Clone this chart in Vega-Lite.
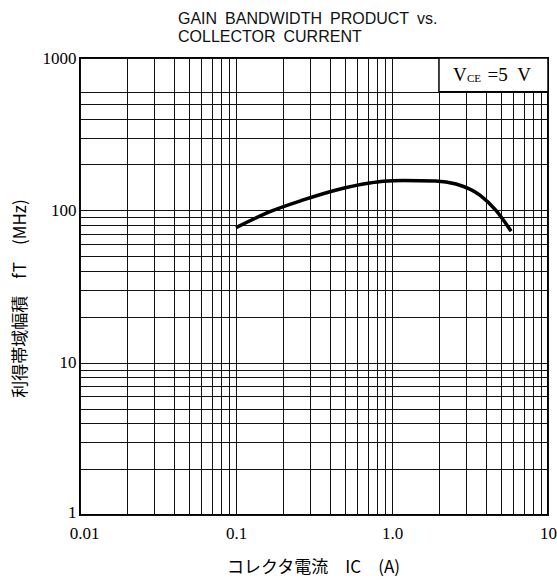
{
  "$schema": "https://vega.github.io/schema/vega-lite/v6.json",
  "width": 468,
  "height": 457,
  "autosize": "none",
  "padding": {"left": 80, "top": 58, "right": 9, "bottom": 65},
  "background": "white",
  "config": {
    "view": {"stroke": "black", "strokeWidth": 2},
    "axis": {"gridColor": "#111", "gridOpacity": 1, "gridWidth": 1, "tickSize": 0, "domain": false, "labelColor": "black", "titleColor": "black", "labelOverlap": false, "labelFlush": false}
  },
  "title": {
    "text": ["GAIN\u2002BANDWIDTH\u2002PRODUCT\u2002vs.", "COLLECTOR\u2002CURRENT"],
    "anchor": "start",
    "frame": "group",
    "dx": 98,
    "offset": 4,
    "font": "Liberation Sans",
    "fontSize": 16,
    "fontWeight": "normal",
    "lineHeight": 18,
    "color": "#111"
  },
  "datasets": {
    "curve": [
      {"ic": 0.1, "ft": 77},
      {"ic": 0.165, "ft": 98},
      {"ic": 0.27, "ft": 117},
      {"ic": 0.44, "ft": 136},
      {"ic": 0.72, "ft": 151},
      {"ic": 0.88, "ft": 155},
      {"ic": 1.18, "ft": 157},
      {"ic": 1.9, "ft": 156},
      {"ic": 2.57, "ft": 149},
      {"ic": 3.66, "ft": 126},
      {"ic": 4.64, "ft": 100},
      {"ic": 5.8, "ft": 73}
    ],
    "box": [{"ic": 2, "ic2": 10, "ft": 600, "ft2": 1000}],
    "annot": [
      {"ic": 2.46, "ft": 710, "part": "V", "label": "V"},
      {"ic": 3.02, "ft": 710, "part": "CE", "label": "CE"},
      {"ic": 4.1, "ft": 710, "part": "rest", "label": "=5\u2002V"}
    ]
  },
  "layer": [
    {
      "data": {"name": "box"},
      "mark": {"type": "rect", "fill": "white", "stroke": "black", "strokeWidth": 1.5},
      "encoding": {
        "x": {
          "field": "ic", "type": "quantitative",
          "scale": {"type": "log", "domain": [0.01, 10], "nice": false},
          "axis": {
            "values": [0.01, 0.02, 0.03, 0.04, 0.05, 0.06, 0.07, 0.08, 0.09, 0.1, 0.2, 0.3, 0.4, 0.5, 0.6, 0.7, 0.8, 0.9, 1, 2, 3, 4, 5, 6, 7, 8, 9, 10],
            "labelExpr": "datum.value == 0.01 ? '0.01' : datum.value == 0.1 ? '0.1' : datum.value == 1 ? '1.0' : datum.value == 10 ? '10' : ''",
            "labelFont": "Liberation Serif",
            "labelFontSize": 17,
            "labelPadding": 10,
            "labelOffset": {"condition": {"test": "datum.value == 0.01", "value": 4}, "value": 0},
            "title": "コレクタ電流\u3000IC\u3000(A)",
            "titleFont": "Noto Sans CJK JP",
            "titleFontSize": 17,
            "titleFontWeight": "normal",
            "titleX": 233,
            "titleY": 57,
            "titleAlign": "center",
            "titleBaseline": "alphabetic"
          }
        },
        "x2": {"field": "ic2"},
        "y": {
          "field": "ft", "type": "quantitative",
          "scale": {"type": "log", "domain": [1, 1000], "nice": false},
          "axis": {
            "values": [1, 2, 3, 4, 5, 6, 7, 8, 9, 10, 20, 30, 40, 50, 60, 70, 80, 90, 100, 200, 300, 400, 500, 600, 1000],
            "labelExpr": "datum.value == 1 ? '1' : datum.value == 10 ? '10' : datum.value == 100 ? '100' : datum.value == 1000 ? '1000' : ''",
            "labelFont": "Liberation Serif",
            "labelFontSize": 17,
            "labelPadding": 4,
            "labelOffset": {"condition": {"test": "datum.value == 1", "value": -3}, "value": 0},
            "title": "利得帯域幅積\u3000fT\u3000(MHz)",
            "titleFont": "Noto Sans CJK JP",
            "titleFontSize": 17,
            "titleFontWeight": "normal",
            "titleX": -60,
            "titleY": 240,
            "titleAlign": "center",
            "titleBaseline": "middle"
          }
        },
        "y2": {"field": "ft2"}
      }
    },
    {
      "data": {"name": "curve"},
      "mark": {"type": "line", "interpolate": "monotone", "color": "black", "strokeWidth": 3.5},
      "encoding": {
        "x": {"field": "ic", "type": "quantitative"},
        "y": {"field": "ft", "type": "quantitative"}
      }
    },
    {
      "data": {"name": "annot"},
      "transform": [{"filter": "datum.part == 'V'"}],
      "mark": {"type": "text", "align": "left", "baseline": "alphabetic", "font": "Liberation Serif", "fontSize": 19, "color": "black"},
      "encoding": {
        "x": {"field": "ic", "type": "quantitative"},
        "y": {"field": "ft", "type": "quantitative"},
        "text": {"field": "label"}
      }
    },
    {
      "data": {"name": "annot"},
      "transform": [{"filter": "datum.part == 'CE'"}],
      "mark": {"type": "text", "align": "left", "baseline": "alphabetic", "font": "Liberation Serif", "fontSize": 11, "dy": 1, "color": "black"},
      "encoding": {
        "x": {"field": "ic", "type": "quantitative"},
        "y": {"field": "ft", "type": "quantitative"},
        "text": {"field": "label"}
      }
    },
    {
      "data": {"name": "annot"},
      "transform": [{"filter": "datum.part == 'rest'"}],
      "mark": {"type": "text", "align": "left", "baseline": "alphabetic", "font": "Liberation Serif", "fontSize": 19, "color": "black"},
      "encoding": {
        "x": {"field": "ic", "type": "quantitative"},
        "y": {"field": "ft", "type": "quantitative"},
        "text": {"field": "label"}
      }
    }
  ]
}
